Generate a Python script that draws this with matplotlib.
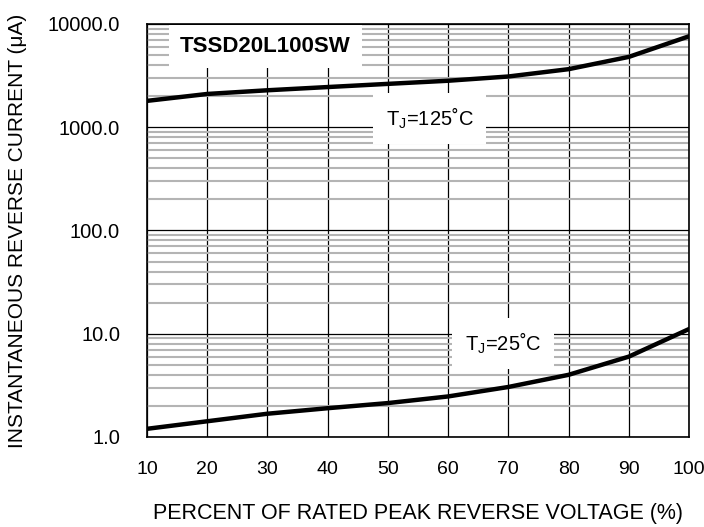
import matplotlib
matplotlib.use("Agg")
import matplotlib.pyplot as plt
import numpy as np
from matplotlib.ticker import FixedLocator, LogLocator, NullFormatter

plt.rcParams['font.family'] = ['Liberation Sans', 'DejaVu Sans']

voltage_pct = [10, 20, 30, 40, 50, 60, 70, 80, 90, 100]
ir_125 = [1800, 2100, 2280, 2450, 2630, 2820, 3100, 3650, 4800, 7600]
ir_25 = [1.20, 1.42, 1.68, 1.90, 2.13, 2.47, 3.05, 4.0, 6.0, 11.1]
y_ticks = [1, 10, 100, 1000, 10000]
y_ticklabels = ["1.0", "10.0", "100.0", "1000.0", "10000.0"]
x_ticks = [10, 20, 30, 40, 50, 60, 70, 80, 90, 100]

fig = plt.figure(figsize=(7.04, 5.27), dpi=100)
ax = fig.add_axes([0.2088, 0.1708, 0.7699, 0.7837])
ax.set_yscale('log')
ax.set_xlim(10, 100)
ax.set_ylim(1, 10000)

ax.yaxis.set_major_locator(FixedLocator(y_ticks))
ax.set_yticklabels(y_ticklabels)
ax.yaxis.set_minor_locator(LogLocator(base=10, subs=np.arange(2, 10)))
ax.yaxis.set_minor_formatter(NullFormatter())
ax.set_xticks(x_ticks)

ax.grid(which='minor', axis='y', color='#b4b4b4', linewidth=1.5, zorder=0)
ax.grid(which='major', axis='y', color='black', linewidth=0.9, zorder=1)
ax.grid(which='major', axis='x', color='black', linewidth=0.9, zorder=1)
ax.tick_params(which='both', length=0)
ax.tick_params(axis='y', which='major', pad=19.4, labelsize=14.5)
ax.tick_params(axis='x', which='major', pad=17, labelsize=14)
for s in ax.spines.values():
    s.set_linewidth(1.2)

ax.plot(voltage_pct, ir_125, color='black', linewidth=3.2, zorder=3)
ax.plot(voltage_pct, ir_25, color='black', linewidth=3.2, zorder=3)

ax.text(56.9, 1030, "T$_\\mathregular{J}$=125\u02daC", fontsize=14.5, ha='center', va='baseline',
        bbox=dict(facecolor='white', edgecolor='none', pad=9), zorder=4)
ax.text(69.1, 6.84, "T$_\\mathregular{J}$=25\u02daC", fontsize=14.5, ha='center', va='baseline',
        bbox=dict(facecolor='white', edgecolor='none', pad=9), zorder=4)
ax.text(29.6, 5320, "TSSD20L100SW", fontsize=16, fontweight='bold', ha='center', va='baseline',
        bbox=dict(facecolor='white', edgecolor='none', pad=8), zorder=4)

ax.set_xlabel("PERCENT OF RATED PEAK REVERSE VOLTAGE (%)", fontsize=15.5, labelpad=18)
ax.set_ylabel("INSTANTANEOUS REVERSE CURRENT (\u03bcA)", fontsize=15, labelpad=15)

fig.savefig("out.png", dpi=100)
